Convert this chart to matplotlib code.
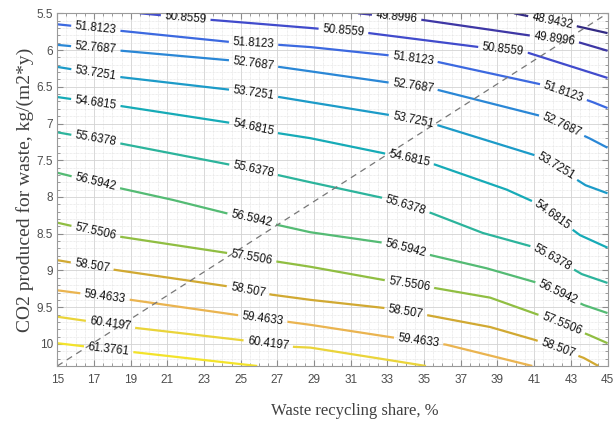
import numpy as np
import matplotlib
matplotlib.use("Agg")
import matplotlib.pyplot as plt
from matplotlib.contour import ContourSet
from matplotlib.colors import LinearSegmentedColormap, Normalize
from matplotlib.ticker import MultipleLocator, FuncFormatter

plt.rcParams['font.family'] = ['Liberation Sans', 'DejaVu Sans']

# contour levels, kg/(m2*y)
levels = [48.9432, 49.8996, 50.8559, 51.8123, 52.7687, 53.7251, 54.6815,
          55.6378, 56.5942, 57.5506, 58.507, 59.4633, 60.4197, 61.3761]

# contour paths: recycling share (%) -> CO2 for waste
line_x = [
    [39.9, 42.5, 45.0],
    [31.4, 34.9, 40.7, 43.5, 45.0],
    [19.5, 23.4, 28.8, 32.0, 38.0, 40.7, 45.0],
    [15.0, 18.5, 24.4, 27.1, 28.8, 33.0, 35.7, 41.6, 44.2, 45.0],
    [15.0, 18.5, 24.4, 27.1, 28.8, 33.0, 35.7, 41.4, 44.0, 45.0],
    [15.0, 18.5, 24.4, 27.1, 28.8, 33.0, 35.7, 41.4, 43.8, 45.0],
    [15.0, 18.4, 24.4, 27.0, 28.8, 32.7, 35.6, 39.5, 41.1, 43.5, 45.0],
    [15.0, 18.4, 24.4, 27.0, 28.8, 32.7, 35.4, 38.2, 41.1, 43.6, 45.0],
    [15.0, 18.4, 21.3, 24.2, 27.0, 28.8, 32.7, 35.5, 38.4, 41.2, 43.7, 45.0],
    [15.0, 18.4, 24.2, 27.0, 28.8, 32.8, 35.6, 38.6, 41.3, 44.0, 45.0],
    [15.0, 18.1, 24.4, 26.7, 28.8, 32.8, 35.2, 38.6, 41.1, 43.7, 44.5],
    [15.0, 19.0, 24.9, 27.6, 28.8, 33.5, 36.2, 40.9],
    [15.0, 19.2, 25.1, 27.9, 28.8, 33.1, 35.1],
    [15.0, 19.1, 25.9],
]
line_y = [
    [5.50, 5.63, 5.77],
    [5.50, 5.59, 5.80, 5.90, 6.01],
    [5.50, 5.59, 5.70, 5.77, 5.96, 6.04, 6.38],
    [5.65, 5.74, 5.89, 5.93, 5.96, 6.07, 6.16, 6.48, 6.71, 6.79],
    [5.93, 6.01, 6.14, 6.23, 6.29, 6.44, 6.54, 6.90, 7.20, 7.33],
    [6.23, 6.37, 6.54, 6.64, 6.71, 6.88, 7.02, 7.46, 7.84, 7.95],
    [6.64, 6.76, 6.99, 7.13, 7.20, 7.40, 7.56, 7.90, 8.08, 8.52, 8.69],
    [7.12, 7.27, 7.56, 7.70, 7.80, 8.01, 8.22, 8.49, 8.69, 9.05, 9.17],
    [7.67, 7.88, 8.04, 8.22, 8.38, 8.48, 8.62, 8.80, 8.97, 9.17, 9.47, 9.58],
    [8.35, 8.54, 8.76, 8.88, 8.95, 9.13, 9.24, 9.37, 9.61, 9.88, 9.99],
    [8.86, 8.99, 9.22, 9.33, 9.40, 9.51, 9.61, 9.77, 9.95, 10.19, 10.30],
    [9.27, 9.40, 9.61, 9.70, 9.74, 9.92, 10.01, 10.30],
    [9.63, 9.78, 9.95, 10.04, 10.05, 10.22, 10.30],
    [9.99, 10.11, 10.30],
]

# where the inline labels sit along each line (recycling share, %)
label_x = [
    [42.0],
    [33.5, 42.1],
    [22.0, 30.6, 39.3],
    [17.1, 25.7, 34.4, 42.6],
    [17.1, 25.7, 34.4, 42.5],
    [17.1, 25.7, 34.4, 42.2],
    [17.1, 25.7, 34.2, 42.0],
    [17.1, 25.7, 34.0, 42.0],
    [17.1, 25.6, 34.0, 42.3],
    [17.1, 25.6, 34.2, 42.5],
    [16.9, 25.4, 34.0, 42.3],
    [17.6, 26.2, 34.7],
    [17.9, 26.5],
    [17.8],
]

x_ticks = np.arange(15, 46, 2)
x_range = (15, 45)
y_range = (10.3, 5.5)

# parula-like map
parula = LinearSegmentedColormap.from_list("parula_like", [
    (0.00, "#2d2370"), (0.11, "#3e37a5"), (0.18, "#414bcc"), (0.25, "#3c69e0"),
    (0.32, "#2a87d6"), (0.39, "#1c9bc8"), (0.46, "#14aab9"), (0.54, "#2db49b"),
    (0.61, "#55bb73"), (0.68, "#91be41"), (0.75, "#d2a932"), (0.82, "#eab450"),
    (0.89, "#ead43a"), (1.00, "#f7ea22"),
])

fig = plt.figure(figsize=(6.13, 4.23), dpi=100)
ax = fig.add_axes([0.0935, 0.1348, 0.8976, 0.8338])

allsegs = [[np.column_stack([xs, ys])] for xs, ys in zip(line_x, line_y)]
cs = ContourSet(ax, levels, allsegs, cmap=parula, norm=Normalize(48.4, 61.9),
                linewidths=1.6)

ax.set_xlim(*x_range)
ax.set_ylim(*y_range)

# dashed diagonal corner to corner
ax.plot(x_range, y_range, linestyle='--', color='#777777', lw=0.9,
        dashes=(5, 4), zorder=2.5)

positions = []
for xs, ys, lx in zip(line_x, line_y, label_x):
    for x in lx:
        positions.append((x, float(np.interp(x, xs, ys))))
ax.clabel(cs, manual=positions, inline=True, inline_spacing=4,
          fontsize=8.3, colors='#111111', fmt='%g')

ax.set_xticks(x_ticks)
ax.xaxis.set_minor_locator(MultipleLocator(0.5))
ax.yaxis.set_major_locator(MultipleLocator(0.5))
ax.yaxis.set_minor_locator(MultipleLocator(0.1))
ax.yaxis.set_major_formatter(FuncFormatter(lambda v, p: f"{v:g}"))

ax.grid(which='major', color='#d2d2d2', lw=0.6)
ax.grid(which='minor', color='#dedede', lw=0.5, linestyle=(0, (1, 1)))

ax.tick_params(which='both', direction='in', top=True, right=True,
               color='#8c8c8c', labelcolor='#4d4d4d', labelsize=8.5)
ax.tick_params(which='major', length=4)
ax.tick_params(which='minor', length=2)
ax.tick_params(axis='x', pad=5.5)
ax.tick_params(axis='y', pad=3)
for sp in ax.spines.values():
    sp.set_color('#9a9a9a')
    sp.set_linewidth(0.8)

ax.set_xlabel("Waste recycling share, %", family=['Liberation Serif', 'DejaVu Serif'],
              fontsize=12, color='#404040')
ax.set_ylabel("CO2 produced for waste, kg/(m2*y)", family=['Liberation Serif', 'DejaVu Serif'],
              fontsize=14, color='#404040')
ax.xaxis.set_label_coords(0.541, -0.105)
ax.yaxis.set_label_coords(-0.042, 0.5)

fig.savefig("out.png", dpi=100)
